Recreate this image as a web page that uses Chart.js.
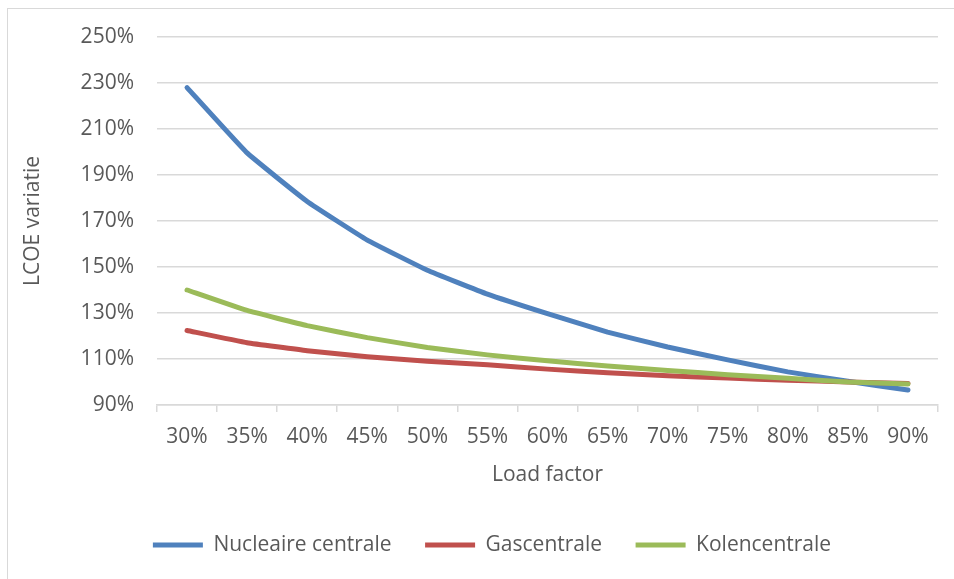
<!DOCTYPE html>
<html>
<head>
<meta charset="utf-8">
<script src="https://cdn.jsdelivr.net/npm/chart.js@4/dist/chart.umd.min.js"></script>
<style>
    html, body { margin: 0; padding: 0; background: #fff; overflow: hidden; }
    #wrap { position: relative; width: 954px; height: 579px; }
    #frame { position: absolute; left: 7px; top: 8px; width: 960px; height: 600px; border: 1px solid #d9d9d9; box-sizing: border-box; }
    canvas { position: absolute; left: 0; top: 0; }
</style>
</head>
<body>
<div id="wrap">
    <div id="frame"></div>
    <canvas id="lcoeChart" width="954" height="579"></canvas>
</div>
<script>
const loadFactors = ['30%', '35%', '40%', '45%', '50%', '55%', '60%', '65%', '70%', '75%', '80%', '85%', '90%'];
const nucleaire = [228, 199.6, 178.5, 161.7, 148.6, 138.2, 129.7, 121.7, 115.2, 109.6, 104.4, 100.3, 96.5];
const gas = [122.4, 117.1, 113.6, 111, 109, 107.5, 105.6, 104, 102.7, 101.7, 100.8, 100, 99.4];
const kolen = [140, 131.1, 124.5, 119.3, 115, 111.8, 109.2, 107, 105, 103.2, 101.6, 100, 99.1];

const textColor = '#595959';
const gridColor = '#d9d9d9';
const font = { family: "'Open Sans', sans-serif", size: 21 };

function lineSet(label, data, color, order) {
    return {
        label: label,
        data: data,
        borderColor: color,
        backgroundColor: color,
        borderWidth: 5,
        borderCapStyle: 'round',
        borderJoinStyle: 'round',
        pointRadius: 0,
        pointStyle: 'line',
        tension: 0.1,
        order: order
    };
}

// nudge the legend row to the right so it sits like the original
const legendShift = {
    id: 'legendShift',
    afterLayout(chart) {
        chart.legend.left += 13;
        chart.legend.right += 13;
    }
};

document.addEventListener('DOMContentLoaded', function() {
    const ctx = document.getElementById('lcoeChart').getContext('2d');
    new Chart(ctx, {
        type: 'line',
        data: {
            labels: loadFactors,
            datasets: [
                lineSet('Nucleaire centrale', nucleaire, '#4f81bd', 3),
                lineSet('Gascentrale', gas, '#c0504d', 2),
                lineSet('Kolencentrale', kolen, '#9bbb59', 1)
            ]
        },
        plugins: [legendShift],
        options: {
            responsive: false,
            animation: false,
            layout: { padding: { left: 20, right: 16, top: 37, bottom: 13.5 } },
            plugins: {
                tooltip: { enabled: false },
                legend: {
                    position: 'bottom',
                    labels: {
                        usePointStyle: true,
                        pointStyle: 'line',
                        pointStyleWidth: 50,
                        padding: 33.5,
                        color: textColor,
                        font: font,
                        sort: (a, b) => a.datasetIndex - b.datasetIndex
                    }
                }
            },
            scales: {
                x: {
                    offset: true,
                    afterFit: function(scale) { scale.height = 96; },
                    grid: {
                        offset: true,
                        drawOnChartArea: false,
                        drawTicks: true,
                        tickLength: 7,
                        color: gridColor,
                        lineWidth: 1.5
                    },
                    border: { color: gridColor, width: 1.5 },
                    ticks: { color: textColor, font: font, padding: 12, maxRotation: 0 },
                    title: {
                        display: true,
                        text: 'Load factor',
                        color: textColor,
                        font: font,
                        padding: { top: 0, bottom: 13.4 }
                    }
                },
                y: {
                    min: 90,
                    max: 250,
                    afterFit: function(scale) { scale.width = 137; },
                    ticks: {
                        stepSize: 20,
                        color: textColor,
                        font: font,
                        padding: 23,
                        callback: v => v + '%'
                    },
                    grid: { drawTicks: false, color: gridColor, lineWidth: 1.5 },
                    border: { display: false },
                    title: {
                        display: true,
                        text: 'LCOE variatie',
                        color: textColor,
                        font: font,
                        padding: 0
                    }
                }
            }
        }
    });
});
</script>
</body>
</html>
